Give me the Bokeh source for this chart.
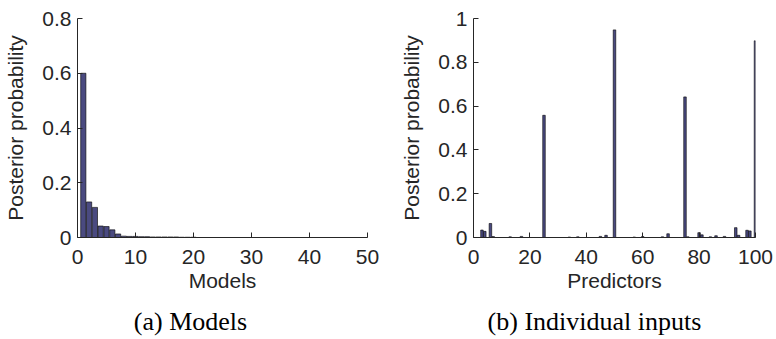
from bokeh.plotting import figure
from bokeh.models import FixedTicker, Range1d
from bokeh.layouts import row, column
from bokeh.core.properties import value
from bokeh.embed import file_html
from bokeh.resources import INLINE

# ---- data ----
models = list(range(1, 51))
model_prob = [0.600, 0.130, 0.110, 0.042, 0.040, 0.028, 0.013, 0.005, 0.004, 0.004,
              0.003, 0.003, 0.002, 0.002, 0.002, 0.002, 0.002, 0.001, 0.001, 0.001,
              0.0, 0.0, 0.0, 0.0, 0.0, 0.0, 0.0, 0.0, 0.0, 0.0,
              0.0, 0.0, 0.0, 0.0, 0.0, 0.0, 0.0, 0.0, 0.0, 0.0,
              0.0, 0.0, 0.0, 0.0, 0.0, 0.0, 0.0, 0.0, 0.0, 0.0]

predictors = list(range(1, 101))
pred_prob = [0.0, 0.0, 0.034, 0.028, 0.0, 0.064, 0.004, 0.0, 0.0, 0.0,
             0.0, 0.0, 0.003, 0.0, 0.0, 0.0, 0.005, 0.0, 0.0, 0.0,
             0.0, 0.0, 0.0, 0.0, 0.558, 0.0, 0.0, 0.0, 0.0, 0.0,
             0.0, 0.0, 0.0, 0.002, 0.0, 0.0, 0.003, 0.0, 0.0, 0.0,
             0.0, 0.0, 0.0, 0.0, 0.005, 0.0, 0.010, 0.0, 0.0, 0.948,
             0.0, 0.0, 0.0, 0.0, 0.0, 0.0, 0.002, 0.0, 0.0, 0.004,
             0.0, 0.0, 0.0, 0.0, 0.0, 0.0, 0.003, 0.0, 0.017, 0.0,
             0.0, 0.0, 0.0, 0.0, 0.642, 0.003, 0.0, 0.0, 0.0, 0.022,
             0.012, 0.0, 0.0, 0.003, 0.0, 0.008, 0.0, 0.0, 0.005, 0.0,
             0.0, 0.0, 0.045, 0.010, 0.0, 0.0, 0.033, 0.030, 0.0, 0.898]

left_xticks = [0, 10, 20, 30, 40, 50]
left_yticks = [0, 0.2, 0.4, 0.6, 0.8]
right_xticks = [0, 20, 40, 60, 80, 100]
right_yticks = [0, 0.2, 0.4, 0.6, 0.8, 1]

caption_a = "(a) Models"
caption_b = "(b) Individual inputs"

BAR = "#4a4a80"
TXT = "#262626"
SANS = "Liberation Sans"
SERIF = "Liberation Serif"

W1, W2 = 393, 383
H_PLOT, H_CAP = 300, 38


def fmt(v):
    return ("%g" % v)


def style(p, xticks, yticks, xlabel, ylabel):
    p.xgrid.grid_line_color = None
    p.ygrid.grid_line_color = None
    p.outline_line_color = None
    p.background_fill_color = "white"
    p.border_fill_color = "white"
    p.xaxis.ticker = FixedTicker(ticks=xticks)
    p.yaxis.ticker = FixedTicker(ticks=yticks)
    p.xaxis.major_label_overrides = {t: fmt(t) for t in xticks}
    p.yaxis.major_label_overrides = {t: fmt(t) for t in yticks}
    p.xaxis.axis_label = xlabel
    p.yaxis.axis_label = ylabel
    for ax in (p.xaxis[0], p.yaxis[0]):
        ax.major_tick_in = 5
        ax.major_tick_out = 0
        ax.minor_tick_line_color = None
        ax.axis_line_color = TXT
        ax.major_tick_line_color = TXT
        ax.major_label_text_font = SANS
        ax.major_label_text_font_size = "21px"
        ax.major_label_text_color = TXT
        ax.axis_label_text_font = SANS
        ax.axis_label_text_font_size = "21px"
        ax.axis_label_text_font_style = "normal"
        ax.axis_label_text_color = TXT
    p.xaxis.major_label_standoff = 12
    p.xaxis.axis_label_standoff = 2
    p.yaxis.major_label_standoff = 6
    p.yaxis.axis_label_standoff = 12


def caption(text, width, cx):
    c = figure(width=width, height=H_CAP, output_backend="svg",
               toolbar_location=None, x_range=Range1d(0, width),
               y_range=Range1d(0, H_CAP), min_border=0)
    c.axis.visible = False
    c.xgrid.grid_line_color = None
    c.ygrid.grid_line_color = None
    c.outline_line_color = None
    c.border_fill_color = "white"
    c.text(x=[cx], y=[H_CAP - 21], text=[text], text_font=value(SERIF),
           text_font_size="26px", text_color="black",
           text_align="center", text_baseline="middle")
    return c


# ---- left: models ----
p1 = figure(width=W1, height=H_PLOT, output_backend="svg", toolbar_location=None,
            x_range=Range1d(0, 50), y_range=Range1d(0, 0.8),
            min_border_left=77, min_border_right=26, min_border_top=16,
            min_border_bottom=63)
p1.vbar(x=models, top=model_prob, width=0.9, fill_color=BAR,
        line_color="black", line_width=0.6)
style(p1, left_xticks, left_yticks, "Models", "Posterior probability")

# ---- right: individual inputs ----
p2 = figure(width=W2, height=H_PLOT, output_backend="svg", toolbar_location=None,
            x_range=Range1d(0, 100), y_range=Range1d(0, 1),
            min_border_left=80, min_border_right=21, min_border_top=18,
            min_border_bottom=63)
p2.vbar(x=predictors, top=pred_prob, width=0.9, fill_color=BAR,
        line_color="black", line_width=0.6)
style(p2, right_xticks, right_yticks, "Predictors", "Posterior probability")

c1 = caption(caption_a, W1, 190)
c2 = caption(caption_b, W2, 594 - W1)

layout = column(row(p1, p2), row(c1, c2))
open("out.html", "w").write(file_html(layout, INLINE))
